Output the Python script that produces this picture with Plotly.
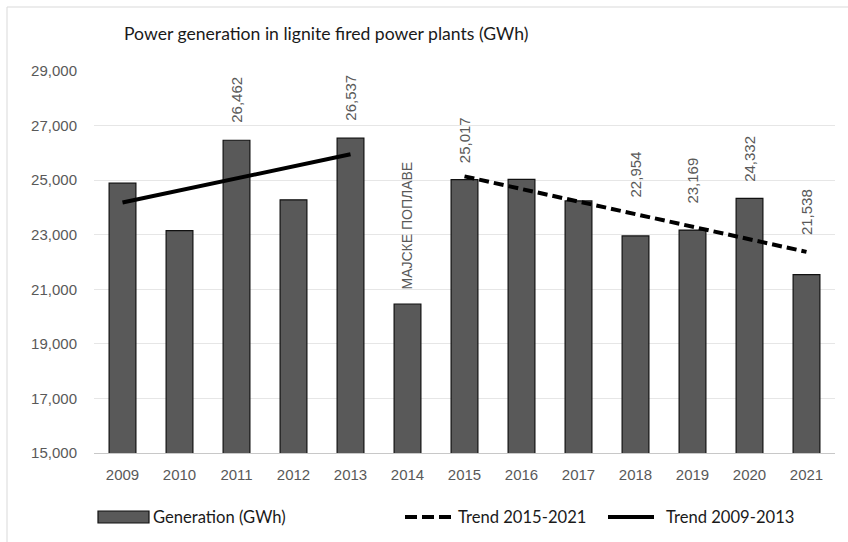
import numpy as np
import plotly.graph_objects as go

# Annual lignite-fired generation, GWh
years = ["2009", "2010", "2011", "2012", "2013", "2014", "2015",
         "2016", "2017", "2018", "2019", "2020", "2021"]
generation = [24890, 23150, 26462, 24280, 26537, 20460, 25017,
              25030, 24240, 22954, 23169, 24332, 21538]

# Years whose values are printed above the bars
labelled_years = ["2011", "2013", "2015", "2018", "2019", "2020", "2021"]
label_gap_px = [15, 15, 14, 36, 24, 14, 37]

flood_year = "2014"
flood_text = "МАЈСКЕ ПОПЛАВЕ"

y_ticks = [15000, 17000, 19000, 21000, 23000, 25000, 27000, 29000]

TITLE = "Power generation in lignite fired power plants (GWh)"
NARROW = "Liberation Sans, Arial, sans-serif"
CAL = "Lato, Carlito, Calibri, sans-serif"
GREY_TXT = "#595959"


def linear_trend(first, last):
    i0, i1 = years.index(first), years.index(last)
    xs = np.arange(i1 - i0 + 1)
    ys = np.array(generation[i0:i1 + 1], dtype=float)
    k, b = np.polyfit(xs, ys, 1)
    return [years[i0], years[i1]], [b, b + k * xs[-1]]


fig = go.Figure()

fig.add_trace(go.Bar(
    x=years, y=generation, name="Generation (GWh)",
    marker=dict(color="#595959", line=dict(color="#111111", width=1.2)),
    showlegend=False,
))

tx, ty = linear_trend("2015", "2021")
fig.add_trace(go.Scatter(
    x=tx, y=ty, mode="lines", name="Trend 2015-2021",
    line=dict(color="black", width=4, dash="10px,5px"), showlegend=False,
))
tx, ty = linear_trend("2009", "2013")
fig.add_trace(go.Scatter(
    x=tx, y=ty, mode="lines", name="Trend 2009-2013",
    line=dict(color="black", width=4), showlegend=False,
))

# Rotated value labels (category axis positions given as indices)
for yr, gap in zip(labelled_years, label_gap_px):
    i = years.index(yr)
    v = generation[i]
    fig.add_annotation(
        x=i, y=v, text=f"{v:,}", textangle=-90, showarrow=False,
        xanchor="center", yanchor="bottom", yshift=gap,
        font=dict(family=NARROW, size=15, color=GREY_TXT),
    )

fi = years.index(flood_year)
fig.add_annotation(
    x=fi, y=generation[fi], text=flood_text,
    textangle=-90, showarrow=False, xanchor="center", yanchor="bottom",
    yshift=12, font=dict(family=NARROW, size=14, color=GREY_TXT),
)

# Pixel helpers for paper coordinates
L, R, T, B, W, H = 94, 13, 71, 89, 848, 542
PW, PH = W - L - R, H - T - B


def px(x):
    return (x - L) / PW


def py(y):
    return (H - B - y) / PH


fig.add_annotation(
    xref="paper", yref="paper", x=px(122), y=py(33), text=TITLE,
    showarrow=False, xanchor="left", yanchor="middle",
    font=dict(family=CAL, size=17.6, color="#1a1a1a"),
)

# Legend drawn in the bottom margin
legend_y = 517
fig.add_shape(type="rect", xref="paper", yref="paper",
              x0=px(98), x1=px(149), y0=py(523), y1=py(511),
              fillcolor="#595959", line=dict(color="#111111", width=1.2))
fig.add_shape(type="line", xref="paper", yref="paper",
              x0=px(405), x1=px(454), y0=py(legend_y), y1=py(legend_y),
              line=dict(color="black", width=4, dash="12px,5px"))
fig.add_shape(type="line", xref="paper", yref="paper",
              x0=px(608), x1=px(654), y0=py(legend_y), y1=py(legend_y),
              line=dict(color="black", width=4))
for x0, name in [(151, "Generation (GWh)"), (456, "Trend 2015-2021"),
                 (664, "Trend 2009-2013")]:
    fig.add_annotation(
        xref="paper", yref="paper", x=px(x0), y=py(legend_y), text=name,
        showarrow=False, xanchor="left", yanchor="middle",
        font=dict(family=CAL, size=16.6, color="#1a1a1a"),
    )

# Outer frame
fig.add_shape(type="rect", xref="paper", yref="paper",
              x0=px(7), x1=px(2000), y0=py(2000), y1=py(7),
              line=dict(color="#d9d9d9", width=1), fillcolor="rgba(0,0,0,0)",
              layer="below")

fig.update_layout(
    width=W, height=H, margin=dict(l=L, r=R, t=T, b=B),
    paper_bgcolor="white", plot_bgcolor="white",
    bargap=0.53, showlegend=False,
    xaxis=dict(type="category", range=[-0.5, len(years) - 0.5],
               showgrid=False, showline=True,
               linecolor="#c8c8c8", linewidth=1, ticks="",
               ticklabelstandoff=8,
               tickfont=dict(family=NARROW, size=15, color=GREY_TXT)),
    yaxis=dict(range=[15000, 29000], tickvals=y_ticks, tickformat=",",
               showgrid=True, gridcolor="#e6e6e6", gridwidth=1,
               zeroline=False, showline=False, ticks="",
               ticklabelstandoff=16,
               tickfont=dict(family=NARROW, size=15, color=GREY_TXT)),
)

fig.write_html("out.html")
